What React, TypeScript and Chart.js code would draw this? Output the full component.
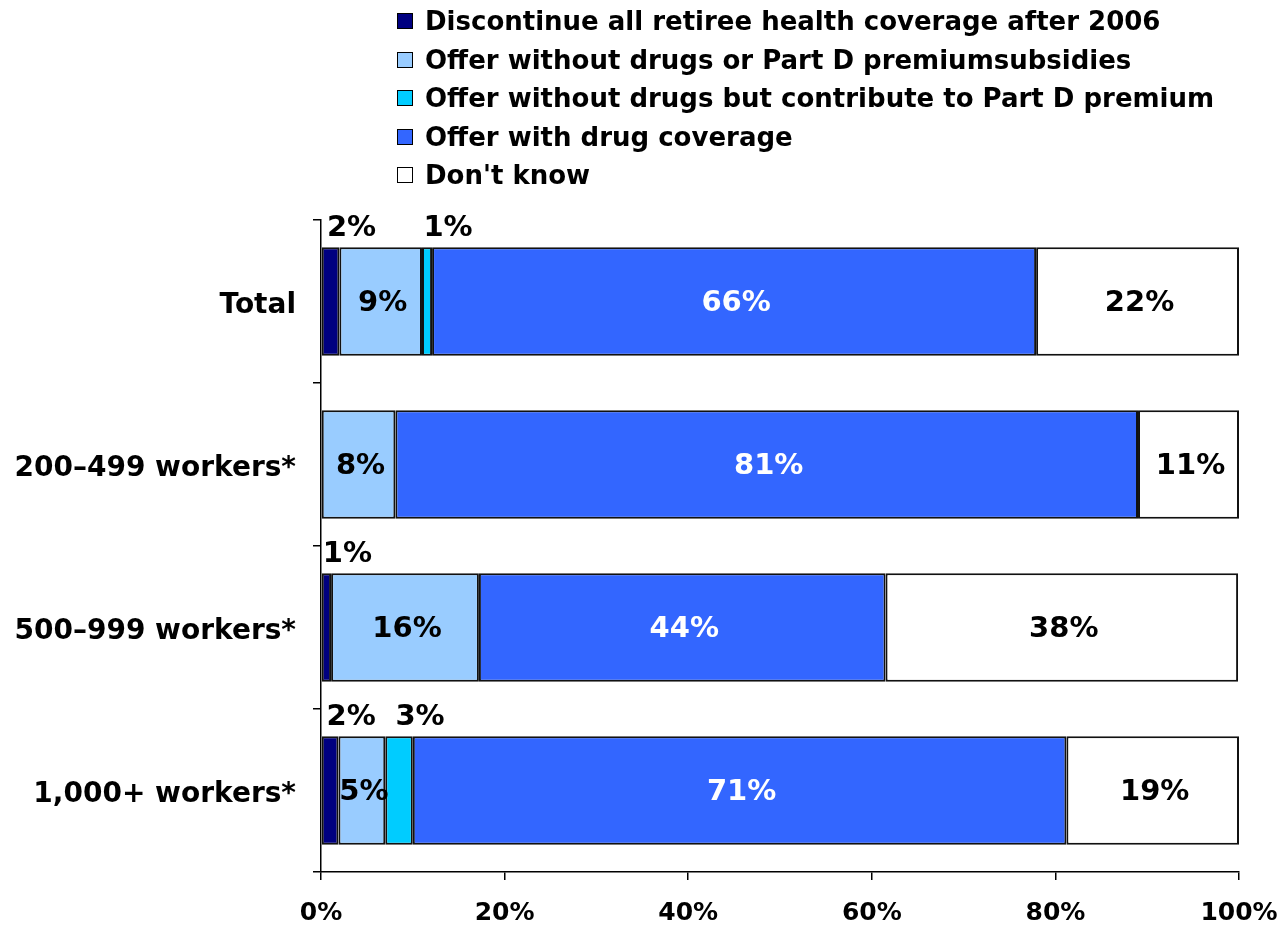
import React, { useEffect, useRef } from "react";
import { Chart, registerables } from "chart.js";

Chart.register(...registerables);

const categories = ["Total", "200–499 workers*", "500–999 workers*", "1,000+ workers*"];
const seriesLabels = [
  "Discontinue all retiree health coverage after 2006",
  "Offer without drugs or Part D premiumsubsidies",
  "Offer without drugs but contribute to Part D premium",
  "Offer with drug coverage",
  "Don't know",
];
const discontinueAll = [2.0, 0, 1.1, 1.9];
const offerNoDrugsNoSubsidy = [9.0, 8.1, 16.1, 5.1];
const offerNoDrugsContribute = [1.1, 0, 0, 3.0];
const offerWithDrugs = [65.8, 80.9, 44.3, 71.2];
const dontKnow = [22.1, 11.0, 38.4, 18.8];
const seriesColors = ["#000080", "#99CCFF", "#00CCFF", "#3366FF", "#FFFFFF"];
const labelColors = ["#000000", "#000000", "#000000", "#FFFFFF", "#000000"];
const xTickStep = 20;

const FONT = "'DejaVu Sans', 'Liberation Sans', sans-serif";

const segLabels = {
  id: "segLabels",
  afterDatasetsDraw(chart: any) {
    const ctx = chart.ctx;
    ctx.save();
    ctx.font = `bold 29px ${FONT}`;
    ctx.textAlign = "center";
    ctx.textBaseline = "middle";
    chart.data.datasets.forEach((ds: any, di: number) => {
      const meta = chart.getDatasetMeta(di);
      meta.data.forEach((bar: any, i: number) => {
        const v = ds.data[i];
        if (!v || v < 0.5) return;
        const p = bar.getProps(["x", "base", "y", "height"], true);
        const txt = Math.round(v) + "%";
        ctx.fillStyle = labelColors[di];
        const cx = (p.x + p.base) / 2;
        if (v < 4) {
          ctx.fillText(txt, cx + 21, p.y - p.height / 2 - 19);
        } else {
          ctx.fillText(txt, cx + 2, p.y + 2);
        }
      });
    });
    ctx.restore();
  },
};

export default function App() {
  const ref = useRef<HTMLCanvasElement | null>(null);

  useEffect(() => {
    document.body.style.margin = "0";
    if (!ref.current) return;
    const seriesData = [discontinueAll, offerNoDrugsNoSubsidy, offerNoDrugsContribute, offerWithDrugs, dontKnow];
    const chart = new Chart(ref.current, {
      type: "bar",
      data: {
        labels: categories,
        datasets: seriesData.map((d, i) => ({
          label: seriesLabels[i],
          data: d,
          backgroundColor: seriesColors[i],
          borderColor: "#111111",
          borderWidth: 2,
          borderSkipped: false,
          categoryPercentage: 1,
          barPercentage: 0.665,
        })),
      },
      options: {
        indexAxis: "y",
        animation: false,
        responsive: false,
        maintainAspectRatio: false,
        layout: { padding: { top: 220, right: 46, left: 0, bottom: 0 } },
        plugins: {
          legend: { display: false },
          tooltip: { enabled: false },
        },
        scales: {
          y: {
            type: "category",
            stacked: true,
            afterFit: (s: any) => {
              s.width = 321;
              s.paddingTop = 0;
              s.paddingBottom = 0;
            },
            grid: {
              display: true,
              drawOnChartArea: false,
              drawTicks: true,
              tickLength: 8,
              color: "#000",
              lineWidth: 1.5,
              offset: true,
            },
            border: { display: true, color: "#000", width: 1.5 },
            ticks: {
              color: "#000",
              padding: 17,
              labelOffset: 4,
              font: { family: FONT, weight: "bold", size: 28 },
            },
          },
          x: {
            type: "linear",
            stacked: true,
            min: 0,
            max: 100,
            afterFit: (s: any) => {
              s.height = 54;
              s.paddingLeft = 0;
              s.paddingRight = 0;
            },
            grid: {
              display: true,
              drawOnChartArea: false,
              drawTicks: true,
              tickLength: 8,
              color: "#000",
              lineWidth: 1.5,
            },
            border: { display: true, color: "#000", width: 1.5 },
            ticks: {
              stepSize: xTickStep,
              color: "#000",
              padding: 18,
              maxRotation: 0,
              font: { family: FONT, weight: "bold", size: 25 },
              callback: (v: any) => v + "%",
            },
          },
        },
      },
      plugins: [segLabels],
    });
    return () => chart.destroy();
  }, []);

  return (
    <div style={{ position: "relative", width: 1285, height: 926, background: "#fff" }}>
      <canvas ref={ref} width={1285} height={926} style={{ display: "block", width: 1285, height: 926 }} />
      <div
        style={{
          position: "absolute",
          left: 397,
          top: 2,
          fontFamily: FONT,
          fontWeight: "bold",
          fontSize: 26,
          letterSpacing: "0px",
          color: "#000",
          whiteSpace: "nowrap",
        }}
      >
        {seriesLabels.map((l, i) => (
          <div key={l} style={{ display: "flex", alignItems: "center", height: 38.5 }}>
            <span
              style={{
                display: "inline-block",
                width: 14,
                height: 14,
                border: "1.5px solid #000",
                background: seriesColors[i],
                marginRight: 12,
                flex: "none",
              }}
            />
            <span>{l}</span>
          </div>
        ))}
      </div>
    </div>
  );
}
